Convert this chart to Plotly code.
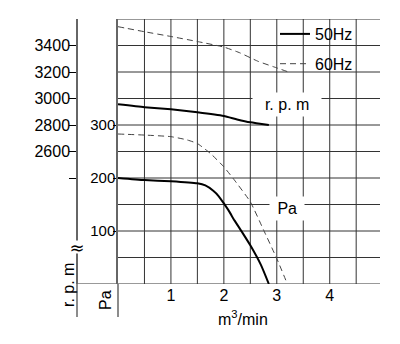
import plotly.graph_objects as go

# Fan performance: static pressure (Pa) and speed (r.p.m) vs. air flow (m3/min)
flow_rpm_50 = [0, 0.5, 1.0, 1.5, 2.0, 2.25, 2.5, 2.85]
rpm_50 = [2956, 2934, 2918, 2896, 2868, 2842, 2820, 2800]

flow_rpm_60 = [0, 0.5, 1.0, 1.5, 2.0, 2.3, 2.65, 2.95, 3.25]
rpm_60 = [3542, 3504, 3468, 3430, 3388, 3345, 3280, 3238, 3196]

flow_pa_50 = [0, 0.5, 1.0, 1.5, 1.65, 1.8, 1.9, 2.0, 2.1, 2.2, 2.35, 2.5, 2.7, 2.85]
pa_50 = [200, 196, 194, 190, 186, 176, 166, 152, 137, 120, 97, 73, 36, 0]

flow_pa_60 = [0, 0.5, 1.0, 1.3, 1.5, 1.75, 2.0, 2.2, 2.5, 2.75, 3.0, 3.2]
pa_60 = [283, 281, 278, 272, 265, 246, 221, 196, 155, 102, 48, 0]

flow_ticks = [1, 2, 3, 4]
pa_ticks = [100, 200, 300]
rpm_ticks = [2400, 2600, 2800, 3000, 3200, 3400]
rpm_tick_text = ["", "2600", "2800", "3000", "3200", "3400"]

flow_grid = [0.5, 1.0, 1.5, 2.0, 2.5, 3.0, 3.5, 4.0, 4.5]
pa_grid = [50, 100, 150, 200, 250, 300, 350, 400, 450, 500]

W, H = 400, 344
FONT = "Liberation Sans"
GRID = "#333333"
AXIS = "#666666"


def px(x):
    return x / W


def py(y):
    return 1 - y / H


X_MAX = 4.95
PA_RANGE = [0, 500]
RPM_RANGE = [1600, 3600]

solid = dict(color="black", width=2)
dashed = dict(color="#444444", width=1, dash="6px,4px")

fig = go.Figure()
fig.add_trace(go.Scatter(x=flow_rpm_50, y=rpm_50, yaxis="y2", mode="lines",
                         line=dict(**solid, shape="spline", smoothing=0.5),
                         name="50Hz", legendgroup="50", showlegend=True))
fig.add_trace(go.Scatter(x=flow_pa_50, y=pa_50, mode="lines",
                         line=dict(**solid, shape="spline", smoothing=0.5),
                         name="50Hz", legendgroup="50", showlegend=False))
fig.add_trace(go.Scatter(x=flow_rpm_60, y=rpm_60, yaxis="y2", mode="lines",
                         line=dict(**dashed, shape="spline", smoothing=0.5),
                         name="60Hz", legendgroup="60", showlegend=True))
fig.add_trace(go.Scatter(x=flow_pa_60, y=pa_60, mode="lines",
                         line=dict(**dashed, shape="spline", smoothing=0.5),
                         name="60Hz", legendgroup="60", showlegend=False))

shapes = []
# chart grid
for g in flow_grid:
    shapes.append(dict(type="line", xref="x", yref="y", x0=g, x1=g, y0=0, y1=500,
                       line=dict(color=GRID, width=1), layer="below"))
for g in pa_grid:
    shapes.append(dict(type="line", xref="x", yref="y", x0=0, x1=X_MAX, y0=g, y1=g,
                       line=dict(color=GRID, width=1), layer="below"))
# zero line running across to the r.p.m scale
shapes.append(dict(type="line", xref="paper", yref="y", x0=px(77), x1=px(380), y0=0, y1=0,
                   line=dict(color=GRID, width=1), layer="below"))
# clear panel behind the legend
shapes.append(dict(type="rect", xref="paper", yref="paper", x0=px(284), x1=px(367),
                   y0=py(70), y1=py(27), fillcolor="white", line=dict(width=0),
                   layer="below"))
# axis lines continued below the zero line
for xa in (77, 118):
    shapes.append(dict(type="line", xref="paper", yref="paper", x0=px(xa), x1=px(xa),
                       y0=py(284), y1=py(317), line=dict(color=AXIS, width=1.5)))

center = dict(xanchor="center", yanchor="middle", showarrow=False)
annotations = [
    dict(text="r. p. m", xref="paper", yref="paper", x=px(68), y=py(285), textangle=-90,
         font=dict(size=16), **center),
    dict(text="Pa", xref="paper", yref="paper", x=px(105), y=py(300), textangle=-90,
         font=dict(size=16), **center),
    dict(text="≈", xref="paper", yref="paper", x=px(77), y=py(247),
         font=dict(size=18, family="DejaVu Sans"), bgcolor="white", borderpad=0,
         width=16, height=12, **center),
    dict(text="\u00a0\u00a0r. p. m\u00a0\u00a0", xref="x", yref="y", x=3.2, y=338,
         font=dict(size=16), bgcolor="white", borderpad=3, **center),
    dict(text="\u00a0Pa\u00a0", xref="x", yref="y", x=3.19, y=143,
         font=dict(size=16), bgcolor="white", borderpad=3, **center),
    dict(text="m<sup>3</sup>/min", xref="paper", yref="paper", x=px(243), y=py(318),
         font=dict(size=16), **center),
]

fig.update_layout(
    width=W, height=H,
    margin=dict(l=0, r=0, t=0, b=0),
    paper_bgcolor="white", plot_bgcolor="white",
    font=dict(family=FONT, size=16, color="black"),
    showlegend=True,
    legend=dict(x=px(275), y=py(17), xanchor="left", yanchor="top",
                bgcolor="rgba(0,0,0,0)", borderwidth=0, tracegroupgap=6,
                font=dict(size=16)),
    xaxis=dict(domain=[px(118), px(380)], range=[0, X_MAX], showgrid=False,
               zeroline=False, showline=False, tickvals=flow_ticks, ticks="",
               tickfont=dict(size=16)),
    yaxis=dict(domain=[py(284), py(19)], range=PA_RANGE, showgrid=False, zeroline=False,
               showline=True, linecolor=AXIS, linewidth=1.5, tickvals=pa_ticks,
               ticks="outside", ticklen=3, tickcolor="black", ticklabelstandoff=-5,
               tickfont=dict(size=15)),
    yaxis2=dict(domain=[py(284), py(19)], range=RPM_RANGE, overlaying="y", anchor="free",
                position=px(77), side="left", showgrid=False, zeroline=False,
                showline=True, linecolor=AXIS, linewidth=1.5, tickvals=rpm_ticks,
                ticktext=rpm_tick_text, ticks="outside", ticklen=7, tickcolor="black",
                ticklabelstandoff=-4, tickfont=dict(size=16)),
    yaxis3=dict(domain=[py(284), py(19)], range=RPM_RANGE, overlaying="y", anchor="free",
                position=px(77), side="left", showgrid=False, zeroline=False,
                showline=False, tickvals=rpm_ticks, showticklabels=False,
                ticks="inside", ticklen=8, tickcolor="black"),
    shapes=shapes,
    annotations=annotations,
)

fig.write_html("out.html")
